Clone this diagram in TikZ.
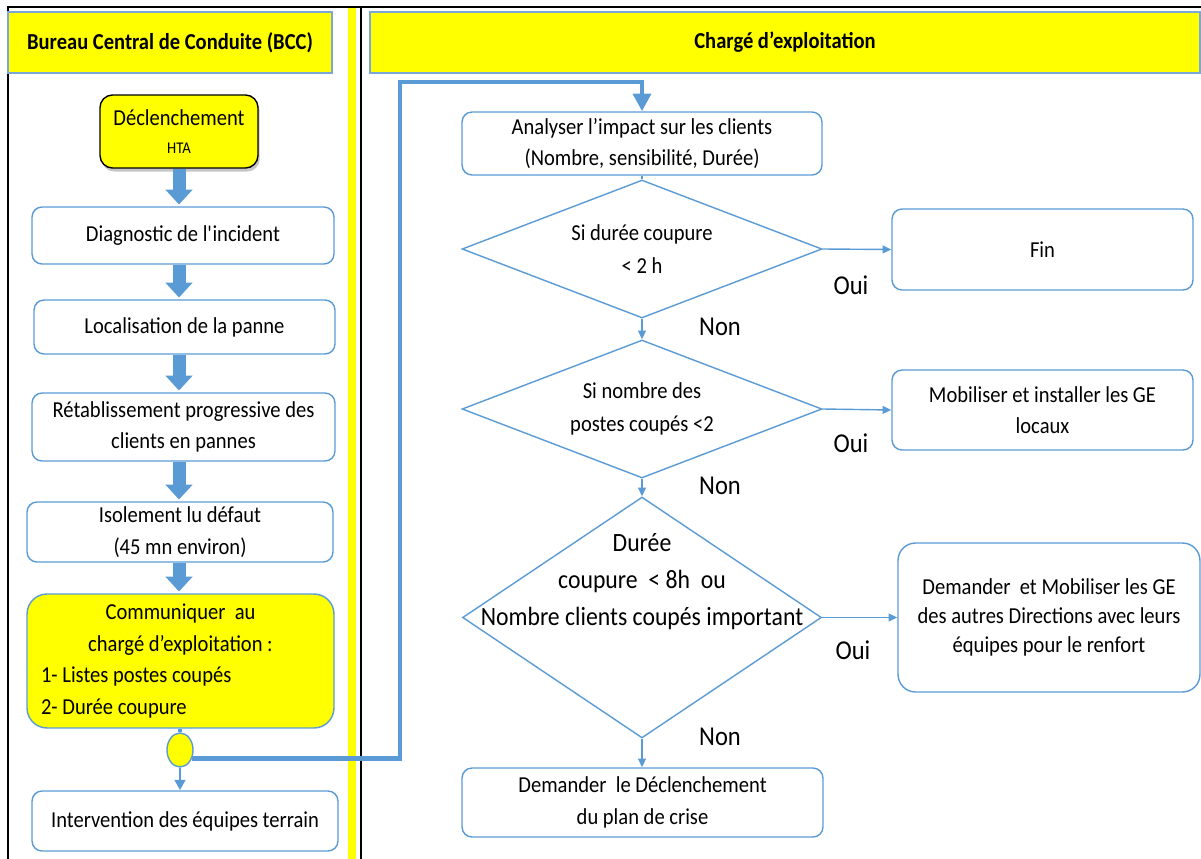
\documentclass[tikz,border=0pt]{standalone}
\usepackage{fontspec}
\setmainfont{Carlito}[FakeStretch=0.9]
\usetikzlibrary{arrows.meta,shapes.geometric,shadows}
\definecolor{bccYellow}{HTML}{FFFF00}
\definecolor{flowBlue}{HTML}{5B9BD5}
\definecolor{headBlue}{HTML}{7BA7D6}

\begin{document}
\begin{tikzpicture}[
  x=0.02cm, y=-0.02cm,
  stepbox/.style={
    rounded corners=2mm,
    draw=flowBlue,
    fill=white,
    line width=0.8pt,
    align=center,
    inner sep=0pt,
    font=\fontsize{13}{18}\selectfont
  },
  header/.style={
    fill=bccYellow,
    draw=headBlue,
    line width=1.4pt,
    minimum height=1.22cm,
    font=\fontsize{13}{15}\selectfont\bfseries
  },
  decision/.style={
    diamond,
    draw=flowBlue,
    line width=0.8pt,
    minimum width=7.2cm,
    minimum height=2.76cm,
    inner sep=0pt
  },
  decisiontext/.style={
    align=center,
    font=\fontsize{13}{19}\selectfont
  },
  answer/.style={font=\fontsize{15.5}{17}\selectfont},
  bigarrow/.style={
    draw=flowBlue,
    line width=7.4pt,
    -{Triangle[length=8.5pt,width=15pt]},
    shorten >=1pt
  },
  thinarrow/.style={
    draw=flowBlue,
    line width=0.8pt,
    -{Triangle[length=5pt,width=4.5pt]}
  }
]
\useasboundingbox (0,0) rectangle (1201,859);

% frame and lane separator
\fill[bccYellow] (348,7) rectangle (356,859);
\draw[black, line width=1.1pt] (8,859) -- (8,7) -- (1201,7);
\draw[black, line width=0.9pt] (361,7) -- (361,859);

% lane headers
\node[header, minimum width=6.48cm] (bcchead) at (170,42.5) {Bureau Central de Conduite (BCC)};
\node[header, minimum width=16.6cm] (cehead) at (785,42.5) {Chargé d’exploitation};

% BCC lane
\node[
  stepbox,
  draw=black,
  fill=bccYellow,
  rounded corners=2.5mm,
  minimum width=3.16cm,
  minimum height=1.46cm,
  drop shadow={shadow xshift=1pt,shadow yshift=-2pt,opacity=0.45}
] (trip) at (179,131.5) {Déclenchement\\[-2pt]{\fontsize{9.3}{11}\selectfont HTA}};
\node[stepbox, minimum width=6.04cm, minimum height=1.14cm] (diag) at (183,235.5) {Diagnostic de l\textquotesingle incident};
\node[stepbox, minimum width=6.02cm, minimum height=1.08cm] (local) at (184.5,327) {Localisation de la panne};
\node[stepbox, minimum width=6.06cm, minimum height=1.36cm] (restore) at (183.5,427) {Rétablissement progressive des\\clients en pannes};
\node[stepbox, minimum width=6.12cm, minimum height=1.2cm] (isolate) at (180,532) {Isolement lu défaut\\(45 mn environ)};
\node[
  stepbox,
  fill=bccYellow,
  rounded corners=4mm,
  text width=5.58cm,
  inner xsep=0.28cm,
  minimum height=2.68cm,
  align=left
] (inform) at (180.5,661) {\spaceskip=0pt\xspaceskip=0pt{\centering Communiquer\ \ au\\chargé d’exploitation :\par}1- Listes postes coupés\\2- Durée coupure};
\node[ellipse, draw=flowBlue, fill=bccYellow, line width=0.8pt, minimum width=0.52cm, minimum height=0.68cm, inner sep=0pt] (relay) at (180,750) {};
\node[stepbox, minimum width=6.12cm, minimum height=1.2cm] (field) at (185,821) {Intervention des équipes terrain};

% exploitation lane
\node[stepbox, minimum width=7.2cm, minimum height=1.26cm] (impact) at (642,143.5) {Analyser l’impact sur les clients\\(Nombre, sensibilité, Durée)};
\node[decision] (q1) at (642,249) {};
\node[decisiontext] (q1text) at (q1.center) {Si durée coupure\\< 2 h};
\node[decision] (q2) at (642,409) {};
\node[decisiontext] (q2text) at (q2.center) {Si nombre des\\postes coupés <2};
\node[decision, minimum width=7.18cm, minimum height=4.82cm] (q3) at (642,617.5) {};
\node[decisiontext, font=\fontsize{15}{21}\selectfont] (q3text) at (642,582) {Durée\\coupure\ \ < 8h\ \ ou\\Nombre clients coupés important};
\node[stepbox, minimum width=7.22cm, minimum height=1.38cm] (crisis) at (642.5,802.5) {Demander\ \ le Déclenchement\\du plan de crise};

\node[stepbox, minimum width=6.02cm, minimum height=1.62cm] (done) at (1042.5,249.5) {Fin};
\node[stepbox, minimum width=6.02cm, minimum height=1.6cm] (localge) at (1042.5,410) {Mobiliser et installer les GE\\locaux};
\node[
  stepbox,
  rounded corners=3.5mm,
  minimum width=6.04cm,
  minimum height=2.98cm,
  font=\fontsize{13}{16.5}\selectfont
] (remotege) at (1049,617.5) {Demander\ \ et Mobiliser les GE\\des autres Directions avec leurs\\équipes pour le renfort};

\node[answer] (yes1) at (851,285) {Oui};
\node[answer] (yes2) at (851,443) {Oui};
\node[answer] (yes3) at (853,650) {Oui};
\node[answer] (no1) at (720,327) {Non};
\node[answer] (no2) at (720,486) {Non};
\node[answer] (no3) at (720,737) {Non};

% connectors
\draw[bigarrow] (trip.south) -- (trip.south |- diag.north);
\draw[bigarrow] (trip.south |- diag.south) -- (trip.south |- local.north);
\draw[bigarrow] (trip.south |- local.south) -- (trip.south |- restore.north);
\draw[bigarrow] (trip.south |- restore.south) -- (trip.south |- isolate.north);
\draw[bigarrow] (trip.south |- isolate.south) -- (trip.south |- inform.north);
\draw[flowBlue, line width=2pt] (relay.north |- inform.south) -- (relay.north);
\draw[flowBlue, line width=1.5pt, -{Triangle[length=6pt,width=6pt]}] (relay.south) -- (relay.south |- field.north);

\coordinate (riser) at (400,82);
\draw[flowBlue, line width=2.8pt, -{Triangle[length=10pt,width=10pt]}] (relay.-35) -| (riser) -| (impact.north);

\draw[flowBlue, line width=0.8pt] (impact.south) -- (q1.north);
\draw[thinarrow] (q1.south) -- (q2.north);
\draw[thinarrow] (q2.south) -- (q3.north);
\draw[thinarrow] (q3.south) -- (q3.south |- crisis.north);
\draw[thinarrow] (q1.east) -- (done.west);
\draw[thinarrow] (q2.east) -- (localge.west);
\draw[thinarrow] (q3.east) -- (q3.east -| remotege.west);
\end{tikzpicture}
\end{document}
